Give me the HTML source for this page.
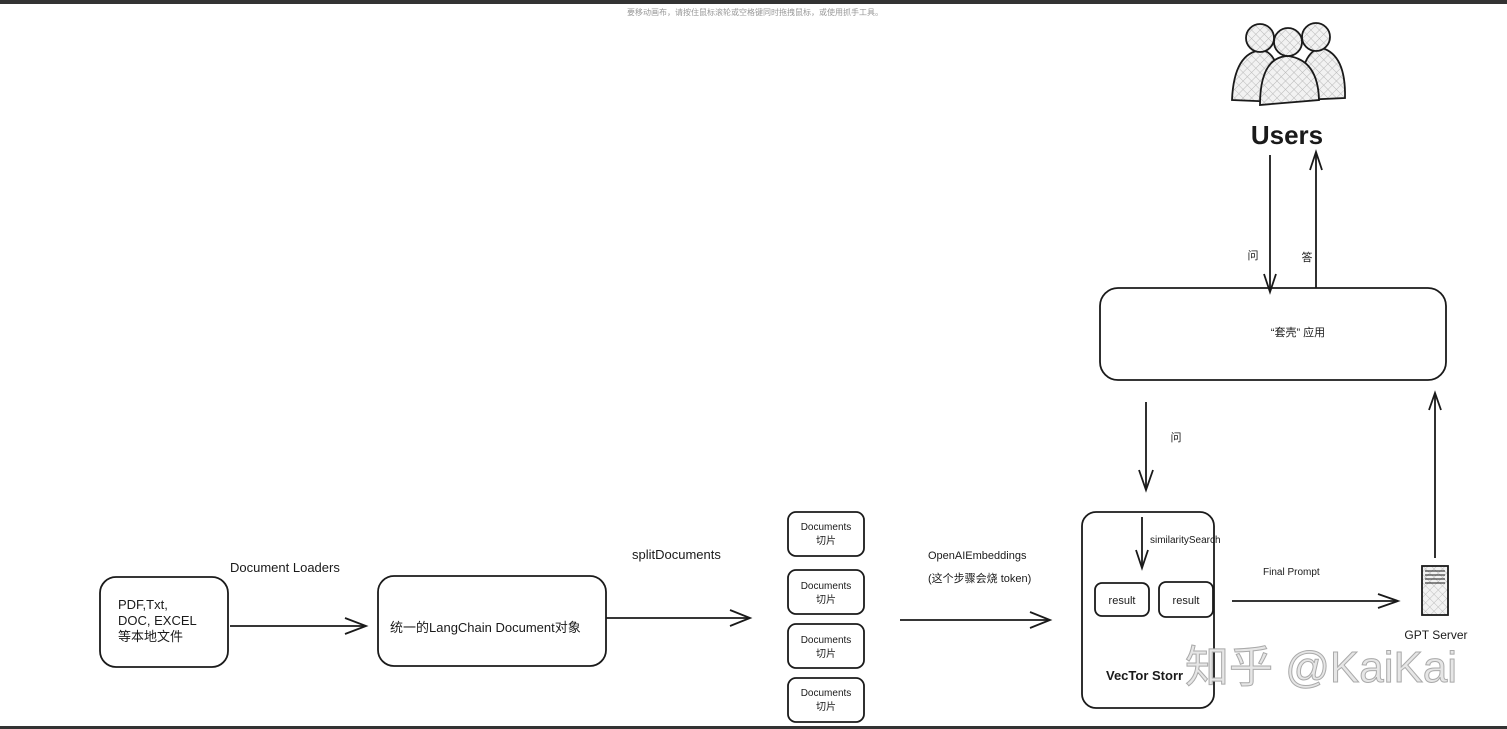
<!DOCTYPE html>
<html><head><meta charset="utf-8"><style>
html,body{margin:0;padding:0;background:#fff;}
svg{display:block}
text{font-family:"Liberation Sans","Noto Sans CJK SC",sans-serif;fill:#1a1a1a}
</style></head><body>
<svg width="1507" height="729" viewBox="0 0 1507 729" xmlns="http://www.w3.org/2000/svg">
<defs>
<pattern id="h" width="6" height="6" patternUnits="userSpaceOnUse" patternTransform="rotate(45)">
<rect width="6" height="6" fill="#f2f2f2"/><path d="M0 0V6M0 0H6" stroke="#bbb" stroke-width="1"/></pattern>
</defs>
<rect x="0" y="0" width="1507" height="4" fill="#333"/>
<rect x="0" y="726" width="1507" height="3" fill="#333"/>
<text x="755" y="15" font-size="8" text-anchor="middle" style="fill:#999">要移动画布，请按住鼠标滚轮或空格键同时拖拽鼠标，或使用抓手工具。</text>
<g stroke="#1a1a1a" stroke-width="1.8" fill="none">
<g fill="url(#h)">
<path d="M1232 100 Q1234 52 1262 50 Q1282 54 1280 102 Z"/>
<path d="M1300 100 Q1300 50 1322 48 Q1346 55 1345 98 Z"/>
<circle cx="1260" cy="38" r="14"/><circle cx="1316" cy="37" r="14"/>
<path d="M1260 105 Q1260 57 1288 56 Q1318 60 1319 100 Z"/>
<circle cx="1288" cy="42" r="14"/>
</g>
<path d="M1270 155 V290"/><path d="M1264 274 L1270 292 L1276 274"/>
<path d="M1316 288 V152"/><path d="M1310 170 L1316 152 L1322 170"/>
<rect x="1100" y="288" width="346" height="92" rx="18"/>
<path d="M1146 402 V490"/><path d="M1139 470 L1146 490 L1153 470"/>
<path d="M1435 558 V393"/><path d="M1429 410 L1435 393 L1441 410"/>
<rect x="100" y="577" width="128" height="90" rx="16"/>
<path d="M230 626 H366"/><path d="M345 618 L366 626 L345 634"/>
<rect x="378" y="576" width="228" height="90" rx="16"/>
<path d="M606 618 H750"/><path d="M730 610 L750 618 L730 626"/>
<rect x="788" y="512" width="76" height="44" rx="8"/>
<rect x="788" y="570" width="76" height="44" rx="8"/>
<rect x="788" y="624" width="76" height="44" rx="8"/>
<rect x="788" y="678" width="76" height="44" rx="8"/>
<path d="M900 620 H1050"/><path d="M1030 612 L1050 620 L1030 628"/>
<rect x="1082" y="512" width="132" height="196" rx="14"/>
<path d="M1142 517 V568"/><path d="M1136 550 L1142 568 L1148 550"/>
<rect x="1095" y="583" width="54" height="33" rx="7"/>
<rect x="1159" y="582" width="54" height="35" rx="7"/>
<path d="M1232 601 H1398"/><path d="M1378 594 L1398 601 L1378 608"/>
<rect x="1422" y="566" width="26" height="49" fill="url(#h)"/>
<path d="M1425 571 H1445 M1425 575 H1445 M1425 579 H1445 M1425 583 H1445" stroke-width="1"/>
</g>
<text x="1287" y="144" font-size="26" font-weight="bold" text-anchor="middle">Users</text>
<text x="1253" y="259" font-size="11" text-anchor="middle">问</text>
<text x="1307" y="261" font-size="11" text-anchor="middle">答</text>
<text x="1298" y="336" font-size="11" text-anchor="middle">“套壳” 应用</text>
<text x="1176" y="441" font-size="11" text-anchor="middle">问</text>
<text x="230" y="572" font-size="13">Document Loaders</text>
<text x="118" y="609" font-size="13">PDF,Txt,</text>
<text x="118" y="625" font-size="13">DOC, EXCEL</text>
<text x="118" y="641" font-size="13">等本地文件</text>
<text x="390" y="632" font-size="13">统一的LangChain Document对象</text>
<text x="632" y="559" font-size="13">splitDocuments</text>
<g font-size="10" text-anchor="middle">
<text x="826" y="530">Documents</text><text x="826" y="544">切片</text>
<text x="826" y="589">Documents</text><text x="826" y="603">切片</text>
<text x="826" y="643">Documents</text><text x="826" y="657">切片</text>
<text x="826" y="696">Documents</text><text x="826" y="710">切片</text>
</g>
<text x="928" y="559" font-size="11">OpenAIEmbeddings</text>
<text x="928" y="582" font-size="11">(这个步骤会烧 token)</text>
<text x="1150" y="543" font-size="10">similaritySearch</text>
<text x="1122" y="604" font-size="11" text-anchor="middle">result</text>
<text x="1186" y="604" font-size="11" text-anchor="middle">result</text>
<text x="1263" y="575" font-size="10">Final Prompt</text>
<text x="1106" y="680" font-size="13" font-weight="bold">VecTor Storr</text>
<text x="1436" y="639" font-size="12" text-anchor="middle">GPT Server</text>
<text x="1185" y="682" font-size="44" style="fill:#e6e6e6;stroke:#aaa;stroke-width:1">知乎 @KaiKai</text>
</svg>
</body></html>
